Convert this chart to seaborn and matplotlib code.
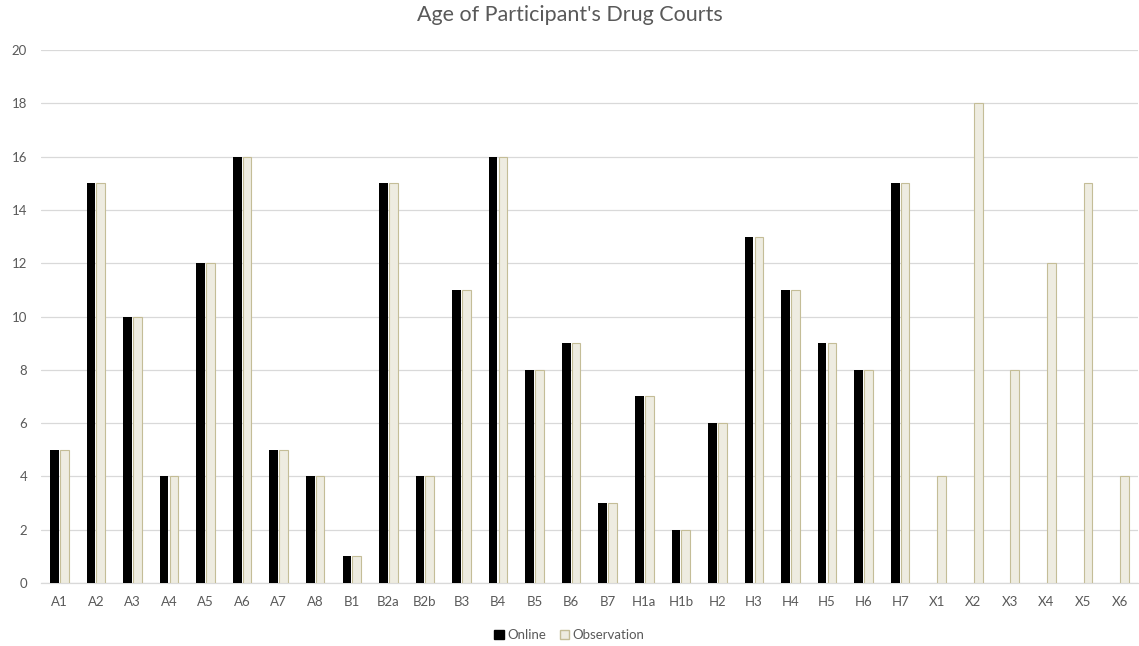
import numpy as np
import pandas as pd
import matplotlib
matplotlib.use("Agg")
import matplotlib.pyplot as plt
import seaborn as sns
from matplotlib.patches import Patch

categories = ["A1", "A2", "A3", "A4", "A5", "A6", "A7", "A8", "B1", "B2a", "B2b",
              "B3", "B4", "B5", "B6", "B7", "H1a", "H1b", "H2", "H3", "H4", "H5",
              "H6", "H7", "X1", "X2", "X3", "X4", "X5", "X6"]
online = [5, 15, 10, 4, 12, 16, 5, 4, 1, 15, 4, 11, 16, 8, 9, 3, 7, 2, 6, 13,
          11, 9, 8, 15, np.nan, np.nan, np.nan, np.nan, np.nan, np.nan]
observation = [5, 15, 10, 4, 12, 16, 5, 4, 1, 15, 4, 11, 16, 8, 9, 3, 7, 2, 6, 13,
               11, 9, 8, 15, 4, 18, 8, 12, 15, 4]
series_names = ["Online", "Observation"]
y_ticks = [0, 2, 4, 6, 8, 10, 12, 14, 16, 18, 20]

df = pd.DataFrame({
    "Court": categories * 2,
    "Series": [series_names[0]] * len(categories) + [series_names[1]] * len(categories),
    "Age": list(online) + list(observation),
})

sns.set_theme(style="white")
plt.rcParams["font.family"] = ["Lato", "DejaVu Sans"]

fig = plt.figure(figsize=(11.39, 6.46), dpi=100)
ax = fig.add_axes([0.036, 0.0975, 0.963, 0.825])

palette = {"Online": "#000000", "Observation": "#eeece1"}
sns.barplot(data=df, x="Court", y="Age", hue="Series", order=categories,
            hue_order=series_names, palette=palette, width=0.54, gap=0.12,
            saturation=1, ax=ax, legend=False, zorder=3)

for patch in ax.patches:
    fc = patch.get_facecolor()
    if fc[0] > 0.5:
        patch.set_edgecolor("#c4bd97")
        patch.set_linewidth(0.8)
    else:
        patch.set_edgecolor("#000000")
        patch.set_linewidth(0)

ax.set_ylim(0, 20)
ax.set_yticks(y_ticks)
ax.set_xlim(-0.5, len(categories) - 0.5)
ax.yaxis.grid(True, color="#d9d9d9", linewidth=0.9, zorder=0)
ax.set_axisbelow(True)
for s in ["top", "right", "left"]:
    ax.spines[s].set_visible(False)
ax.spines["bottom"].set_color("#d9d9d9")
ax.spines["bottom"].set_linewidth(0.9)
ax.tick_params(axis="both", length=0, colors="#595959", labelsize=9.5)
ax.tick_params(axis="x", pad=9)
ax.tick_params(axis="y", pad=10)
ax.set_xlabel("")
ax.set_ylabel("")

fig.text(0.5, 0.977, "Age of Participant's Drug Courts", ha="center", va="center",
         fontsize=15.5, color="#595959")

handles = [Patch(facecolor="#000000", edgecolor="#000000"),
           Patch(facecolor="#eeece1", edgecolor="#c4bd97")]
fig.legend(handles, series_names, loc="center", bbox_to_anchor=(0.5, 0.017),
           ncol=2, frameon=False, fontsize=9.5, labelcolor="#595959",
           handlelength=0.7, handleheight=0.7, handletextpad=0.3, columnspacing=1.0)

fig.savefig("out.png", dpi=100, facecolor="white")
